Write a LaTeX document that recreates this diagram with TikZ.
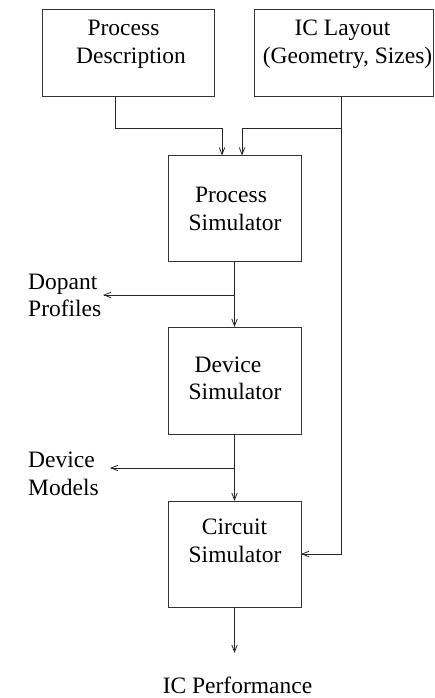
\documentclass[tikz,border=0pt]{standalone}
\usepackage{fontspec}
\setmainfont{Liberation Serif}
\usetikzlibrary{arrows.meta}
\begin{document}
\begin{tikzpicture}[x=1pt, y=-1pt,
  box/.style={draw=black!80, line width=0.8pt, inner sep=0pt, outer sep=0pt},
  txt/.style={anchor=base, inner sep=0pt, font=\fontsize{23.5}{28}\selectfont},
  ltxt/.style={txt, anchor=base west},
  arr/.style={draw=black!85, line width=0.8pt, -{Straight Barb[length=7pt,width=5.5pt]}},
  wire/.style={draw=black!85, line width=0.8pt}]
\useasboundingbox (0,0) rectangle (435,698);

% blocks
\node[box, minimum width=172pt, minimum height=87pt] (pd)  at (128,52.5) {};
\node[box, minimum width=179pt, minimum height=87pt] (icl) at (343.5,52.5) {};
\node[box, minimum width=133pt, minimum height=106pt] (ps) at (234.5,208.5) {};
\node[box, minimum width=133pt, minimum height=107pt] (ds) at (234.5,380.5) {};
\node[box, minimum width=133pt, minimum height=106pt] (cs) at (234.5,554) {};

% block texts
\node[txt] (pd1) at (123.5,36) {Process};
\node[txt] (pd2) at (131,64) {Description};
\node[txt] (ic1) at (342.5,36) {IC Layout};
\node[txt] (ic2) at (347.5,64) {(Geometry, Sizes)};
\node[txt] (ps1) at (231,202) {Process};
\node[txt] (ps2) at (235,230) {Simulator};
\node[txt] (ds1) at (228,372) {Device};
\node[txt] (ds2) at (235,399) {Simulator};
\node[txt] (cs1) at (234.5,534) {Circuit};
\node[txt] (cs2) at (235,562) {Simulator};

% outputs
\node[ltxt] (dp1) at (28,289) {Dopant};
\node[ltxt] (dp2) at (28,316) {Profiles};
\node[ltxt] (dm1) at (28,467) {Device};
\node[ltxt] (dm2) at (28,495) {Models};
\node[txt] (icp) at (237.5,693) {IC Performance};

% junctions and free ends
\coordinate (jr)  at (341,128);
\coordinate (jd)  at (234.5,295);
\coordinate (jm)  at (234.5,468);
\coordinate (tdp) at (103,295);
\coordinate (tdm) at (110,468);
\coordinate (tip) at (234.5,653);

% connectors
\draw[arr] ([xshift=-13pt]pd.south) -- ++(0,32) -| ([xshift=-12.5pt]ps.north);
\draw[arr] ([xshift=-2.5pt]icl.south) |- (cs.east);
\draw[arr] (jr) -| ([xshift=7.5pt]ps.north);
\draw[arr] (ps.south) -- (ds.north);
\draw[arr] (jd) -- (tdp);
\draw[arr] (ds.south) -- (cs.north);
\draw[arr] (jm) -- (tdm);
\draw[arr] (cs.south) -- (tip);
\end{tikzpicture}
\end{document}
